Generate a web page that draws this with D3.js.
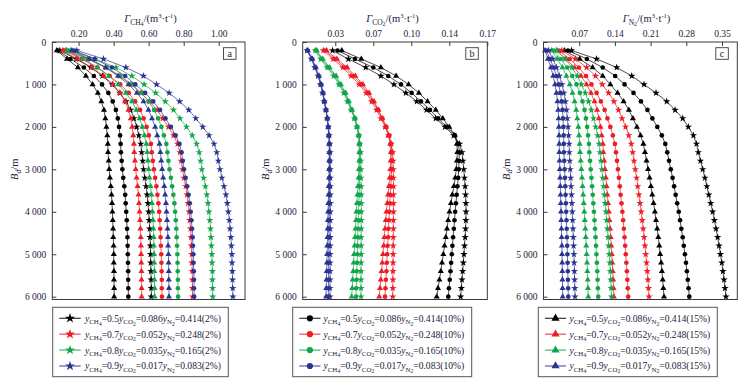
<!DOCTYPE html>
<html><head><meta charset="utf-8">
<script src="https://cdn.jsdelivr.net/npm/d3@7"></script>
<style>body{margin:0;background:#fff}svg{display:block}</style>
</head><body>
<svg id="chart" width="754" height="388"></svg>
<script>
// ---------------- DATA ----------------
const depths = [200,400,600,800,1000,1200,1400,1600,1800,2000,2200,2400,2600,2800,3000,3200,3400,3600,3800,4000,4200,4400,4600,4800,5000,5200,5400,5600,5800,6000];
const depthTicks = [0,1000,2000,3000,4000,5000,6000];
const depthTickLabels = ["0","1 000","2 000","3 000","4 000","5 000","6 000"];
const xTicksCH4 = [0.2,0.4,0.6,0.8,1.0];
const xTickLabelsCH4 = ["0.20","0.40","0.60","0.80","1.00"];
const xTicksCO2 = [0.03,0.065,0.1,0.135,0.17];
const xTickLabelsCO2 = ["0.03","0.07","0.10","0.14","0.17"];
const xTicksN2 = [0.07,0.14,0.21,0.28,0.35];
const xTickLabelsN2 = ["0.07","0.14","0.21","0.28","0.35"];
const yCH4 = ["0.5","0.7","0.8","0.9"];
const yCO2 = ["0.086","0.052","0.035","0.017"];
const yN2 = ["0.414","0.248","0.165","0.083"];
const moisture = ["15%","10%","2%"]; // triangle, circle, star

// Panel a: CH4
const ch4Black15 = [0.076,0.134,0.196,0.242,0.280,0.310,0.330,0.345,0.353,0.359,0.364,0.367,0.368,0.372,0.375,0.379,0.384,0.388,0.391,0.393,0.395,0.397,0.398,0.400,0.401,0.401,0.402,0.402,0.403,0.403];
const ch4Black10 = [0.082,0.154,0.230,0.287,0.334,0.370,0.395,0.413,0.424,0.431,0.437,0.440,0.442,0.446,0.450,0.455,0.461,0.466,0.469,0.472,0.475,0.477,0.479,0.480,0.481,0.482,0.483,0.483,0.484,0.484];
const ch4Black2 = [0.093,0.186,0.270,0.336,0.392,0.436,0.471,0.497,0.516,0.532,0.544,0.555,0.560,0.566,0.571,0.578,0.585,0.591,0.596,0.600,0.603,0.606,0.608,0.610,0.611,0.612,0.613,0.614,0.615,0.615];
const ch4Red15 = [0.110,0.192,0.277,0.343,0.396,0.436,0.465,0.485,0.498,0.506,0.512,0.516,0.518,0.522,0.526,0.531,0.537,0.542,0.545,0.548,0.551,0.553,0.555,0.556,0.557,0.558,0.559,0.559,0.560,0.560];
const ch4Red10 = [0.118,0.218,0.308,0.378,0.438,0.486,0.523,0.551,0.571,0.588,0.601,0.613,0.618,0.624,0.630,0.637,0.644,0.650,0.656,0.660,0.663,0.666,0.668,0.670,0.672,0.673,0.674,0.675,0.675,0.676];
const ch4Red2 = [0.127,0.251,0.355,0.436,0.498,0.557,0.605,0.648,0.680,0.713,0.742,0.765,0.778,0.785,0.793,0.801,0.811,0.819,0.825,0.831,0.835,0.839,0.842,0.844,0.846,0.847,0.849,0.850,0.850,0.851];
const ch4Green15 = [0.133,0.225,0.307,0.372,0.427,0.470,0.505,0.530,0.548,0.564,0.576,0.587,0.592,0.596,0.600,0.605,0.611,0.616,0.619,0.622,0.625,0.627,0.629,0.630,0.631,0.632,0.633,0.633,0.634,0.634];
const ch4Green10 = [0.145,0.257,0.359,0.437,0.505,0.558,0.600,0.631,0.654,0.673,0.687,0.701,0.707,0.713,0.719,0.727,0.734,0.741,0.747,0.751,0.755,0.758,0.760,0.762,0.764,0.765,0.766,0.767,0.767,0.768];
const ch4Green2 = [0.156,0.295,0.413,0.504,0.574,0.640,0.695,0.742,0.779,0.816,0.849,0.874,0.889,0.897,0.904,0.914,0.924,0.932,0.939,0.944,0.949,0.953,0.956,0.958,0.961,0.962,0.964,0.964,0.965,0.966];
const ch4Blue15 = [0.162,0.263,0.354,0.425,0.485,0.533,0.571,0.599,0.619,0.637,0.649,0.662,0.667,0.672,0.677,0.683,0.689,0.694,0.699,0.702,0.705,0.708,0.710,0.711,0.713,0.714,0.715,0.715,0.716,0.716];
const ch4Blue10 = [0.175,0.291,0.390,0.466,0.524,0.580,0.626,0.665,0.696,0.727,0.754,0.776,0.788,0.795,0.802,0.811,0.820,0.828,0.835,0.840,0.844,0.848,0.851,0.853,0.855,0.856,0.858,0.859,0.859,0.860];
const ch4Blue2 = [0.190,0.342,0.470,0.570,0.645,0.717,0.777,0.829,0.869,0.909,0.945,0.973,0.989,0.998,1.007,1.018,1.030,1.041,1.049,1.055,1.061,1.065,1.069,1.072,1.075,1.076,1.078,1.079,1.080,1.081];

// Panel b: CO2
const co2Black15 = [0.036,0.054,0.072,0.086,0.0975,0.107,0.115,0.1225,0.129,0.135,0.140,0.142,0.1424,0.1420,0.1414,0.1405,0.1392,0.1378,0.1365,0.1352,0.1340,0.1329,0.1318,0.1306,0.1295,0.1283,0.1272,0.1259,0.1246,0.1234];
const co2Black10 = [0.0321,0.0481,0.0650,0.0788,0.0905,0.1003,0.1089,0.1172,0.1248,0.1325,0.1402,0.1435,0.1442,0.1440,0.1437,0.1432,0.1425,0.1418,0.1411,0.1404,0.1398,0.1392,0.1385,0.1379,0.1373,0.1367,0.1361,0.1354,0.1347,0.1341];
const co2Black2 = [0.0275,0.042,0.058,0.072,0.084,0.095,0.105,0.114,0.1225,0.131,0.139,0.1445,0.1467,0.1475,0.1483,0.1490,0.1496,0.1500,0.1503,0.1504,0.1503,0.1500,0.1496,0.1490,0.1485,0.1479,0.1473,0.1467,0.1461,0.1455];
const co2Red15 = [0.022,0.0315,0.041,0.0485,0.0555,0.0612,0.0657,0.0698,0.0733,0.0765,0.0790,0.0806,0.0812,0.0810,0.0807,0.0801,0.0794,0.0786,0.0779,0.0771,0.0765,0.0758,0.0752,0.0746,0.0739,0.0733,0.0726,0.0719,0.0712,0.0705];
const co2Red10 = [0.0205,0.0297,0.0389,0.0466,0.0538,0.0600,0.0648,0.0694,0.0733,0.0770,0.0798,0.0815,0.0822,0.0821,0.0819,0.0816,0.0811,0.0807,0.0802,0.0798,0.0794,0.0790,0.0786,0.0782,0.0778,0.0775,0.0771,0.0766,0.0762,0.0758];
const co2Red2 = [0.019,0.028,0.037,0.0445,0.052,0.0585,0.0635,0.068,0.072,0.076,0.079,0.0815,0.0828,0.0832,0.0834,0.0835,0.0836,0.0836,0.0836,0.0836,0.0835,0.0835,0.0834,0.0833,0.0833,0.0832,0.0831,0.0831,0.0830,0.0829];
const co2Green15 = [0.013,0.0185,0.0248,0.0308,0.0352,0.0395,0.0425,0.0455,0.0482,0.0500,0.0514,0.0519,0.0521,0.0520,0.0517,0.0514,0.0509,0.0504,0.0499,0.0494,0.0490,0.0486,0.0482,0.0478,0.0473,0.0469,0.0465,0.0460,0.0456,0.0451];
const co2Green10 = [0.0122,0.0174,0.0235,0.0297,0.0343,0.0389,0.0419,0.0450,0.0481,0.0502,0.0518,0.0525,0.0528,0.0527,0.0526,0.0524,0.0522,0.0519,0.0517,0.0514,0.0512,0.0509,0.0507,0.0505,0.0503,0.0501,0.0498,0.0496,0.0493,0.0491];
const co2Green2 = [0.0115,0.0165,0.0225,0.0285,0.0333,0.0378,0.0412,0.0445,0.0476,0.0499,0.0518,0.0527,0.0533,0.0535,0.0536,0.0537,0.0538,0.0539,0.0539,0.0539,0.0539,0.0539,0.0538,0.0538,0.0538,0.0538,0.0537,0.0537,0.0537,0.0537];
const co2Blue15 = [0.0048,0.0090,0.0121,0.0151,0.0171,0.0189,0.0201,0.0215,0.0226,0.0234,0.0239,0.0243,0.0245,0.0244,0.0243,0.0242,0.0240,0.0238,0.0236,0.0234,0.0232,0.0230,0.0228,0.0226,0.0225,0.0223,0.0221,0.0219,0.0217,0.0215];
const co2Blue10 = [0.0043,0.0083,0.0114,0.0145,0.0166,0.0185,0.0198,0.0214,0.0227,0.0236,0.0242,0.0247,0.0249,0.0249,0.0248,0.0248,0.0247,0.0246,0.0245,0.0244,0.0243,0.0242,0.0242,0.0241,0.0240,0.0239,0.0239,0.0238,0.0237,0.0236];
const co2Blue2 = [0.0040,0.0080,0.0111,0.0142,0.0164,0.0183,0.0197,0.0214,0.0227,0.0237,0.0244,0.0250,0.0252,0.0253,0.0254,0.0254,0.0254,0.0254,0.0254,0.0254,0.0254,0.0253,0.0253,0.0253,0.0252,0.0252,0.0252,0.0252,0.0251,0.0251];

// Panel c: N2
const n2Black15 = [0.041,0.071,0.0963,0.1161,0.1311,0.1453,0.1571,0.1674,0.1753,0.1832,0.1903,0.1958,0.1990,0.2020,0.2050,0.2080,0.2106,0.2132,0.2158,0.2184,0.2206,0.2229,0.2251,0.2270,0.2288,0.2307,0.2322,0.2337,0.2350,0.2363];
const n2Black10 = [0.048,0.085,0.1161,0.1405,0.1590,0.1765,0.1911,0.2038,0.2135,0.2232,0.2320,0.2388,0.2427,0.2462,0.2496,0.2531,0.2561,0.2591,0.2621,0.2652,0.2678,0.2703,0.2729,0.2751,0.2773,0.2794,0.2811,0.2829,0.2844,0.2859];
const n2Black2 = [0.055,0.104,0.1435,0.173,0.197,0.2206,0.2415,0.258,0.273,0.284,0.294,0.300,0.3035,0.3078,0.3122,0.3165,0.3203,0.3241,0.3279,0.3317,0.3350,0.3383,0.3415,0.3442,0.3469,0.3497,0.3518,0.3540,0.3559,0.3578];
const n2Red15 = [0.026,0.0443,0.0607,0.0735,0.0844,0.0931,0.1000,0.1050,0.1086,0.1118,0.1141,0.1164,0.1173,0.1190,0.1206,0.1223,0.1237,0.1252,0.1266,0.1281,0.1293,0.1305,0.1318,0.1328,0.1339,0.1349,0.1357,0.1366,0.1373,0.1380];
const n2Red10 = [0.030,0.0513,0.0693,0.0833,0.0940,0.1041,0.1125,0.1198,0.1254,0.1310,0.1360,0.1400,0.1422,0.1441,0.1460,0.1479,0.1496,0.1513,0.1530,0.1546,0.1561,0.1575,0.1589,0.1601,0.1613,0.1625,0.1635,0.1644,0.1653,0.1661];
const n2Red2 = [0.036,0.0624,0.0846,0.1020,0.1152,0.1277,0.1381,0.1471,0.1541,0.1610,0.1673,0.1721,0.1749,0.1775,0.1800,0.1826,0.1848,0.1871,0.1893,0.1915,0.1935,0.1954,0.1973,0.1989,0.2005,0.2021,0.2034,0.2047,0.2058,0.2069];
const n2Green15 = [0.016,0.0271,0.0371,0.0449,0.0516,0.0569,0.0610,0.0641,0.0663,0.0683,0.0697,0.0710,0.0716,0.0729,0.0742,0.0755,0.0766,0.0778,0.0789,0.0800,0.0810,0.0820,0.0829,0.0838,0.0846,0.0854,0.0860,0.0867,0.0872,0.0878];
const n2Green10 = [0.020,0.034,0.0465,0.0563,0.0647,0.0713,0.0765,0.0804,0.0832,0.0856,0.0874,0.0891,0.0898,0.0912,0.0926,0.0940,0.0952,0.0965,0.0977,0.0989,0.1000,0.1010,0.1021,0.1029,0.1038,0.1047,0.1054,0.1061,0.1067,0.1073];
const n2Green2 = [0.026,0.0421,0.0557,0.0663,0.0743,0.0820,0.0883,0.0938,0.0981,0.1023,0.1061,0.1091,0.1108,0.1126,0.1144,0.1162,0.1178,0.1194,0.1210,0.1226,0.1240,0.1253,0.1267,0.1278,0.1290,0.1301,0.1310,0.1319,0.1327,0.1335];
const n2Blue15 = [0.003,0.0086,0.0145,0.019,0.0226,0.0254,0.0274,0.0288,0.0296,0.0302,0.0306,0.0309,0.0310,0.0315,0.0321,0.0326,0.0330,0.0335,0.0340,0.0344,0.0348,0.0352,0.0356,0.0360,0.0363,0.0366,0.0369,0.0371,0.0374,0.0376];
const n2Blue10 = [0.006,0.0128,0.0199,0.0254,0.0298,0.0332,0.0356,0.0373,0.0383,0.0390,0.0395,0.0398,0.0400,0.0407,0.0414,0.0421,0.0427,0.0433,0.0439,0.0445,0.0450,0.0455,0.0460,0.0465,0.0469,0.0473,0.0477,0.0480,0.0483,0.0486];
const n2Blue2 = [0.010,0.0181,0.0254,0.0311,0.0360,0.0398,0.0429,0.0451,0.0467,0.0482,0.0492,0.0502,0.0506,0.0515,0.0524,0.0533,0.0541,0.0549,0.0556,0.0564,0.0571,0.0578,0.0584,0.0590,0.0596,0.0601,0.0606,0.0610,0.0614,0.0618];

// ---------------- STYLE / LAYOUT ----------------
const colors = ["#000000","#ee1c25","#13a54a","#2b3491"];
const shapes = [d3.symbolTriangle, d3.symbolCircle, d3.symbolStar];
const shapeSizes = [16, 17, 17];
const serif = "'Liberation Serif','Times New Roman',serif";
const textColor = "#1b1b3a";
const frameColor = "#3a3a3a";

const panels = [
  {letter:"a", gas:["CH","4"], x0:52.3, x1:245, domain:[0.05,1.15], ticks:xTicksCH4, labels:xTickLabelsCH4,
   series:[[ch4Black15,ch4Black10,ch4Black2],[ch4Red15,ch4Red10,ch4Red2],[ch4Green15,ch4Green10,ch4Green2],[ch4Blue15,ch4Blue10,ch4Blue2]],
   legendShape:2, lx0:52.7, lx1:228.3, lineA:59.3, lineB:80.7, textX:85, titleX:150.5},
  {letter:"b", gas:["CO","2"], x0:302.7, x1:487.3, domain:[0,0.17], ticks:xTicksCO2, labels:xTickLabelsCO2,
   series:[[co2Black15,co2Black10,co2Black2],[co2Red15,co2Red10,co2Red2],[co2Green15,co2Green10,co2Green2],[co2Blue15,co2Blue10,co2Blue2]],
   legendShape:1, lx0:292.7, lx1:471.7, lineA:299.3, lineB:320.5, textX:323.5, titleX:392.5},
  {letter:"c", gas:["N","2"], x0:543.5, x1:737.3, domain:[0,0.38], ticks:xTicksN2, labels:xTickLabelsN2,
   series:[[n2Black15,n2Black10,n2Black2],[n2Red15,n2Red10,n2Red2],[n2Green15,n2Green10,n2Green2],[n2Blue15,n2Blue10,n2Blue2]],
   legendShape:0, lx0:538.3, lx1:717.3, lineA:545, lineB:566, textX:569.5, titleX:646.5}
];

const plotTop = 42, plotBottom = 299.5;
const svg = d3.select("#chart");

// rich text helper: segments [text, level(0 normal,1 sub,2 subsub,-1 sup), italic]
function rich(textSel, segs, base){
  const off = {0:0, 1:0.28, 2:0.40, "-1":-0.38};
  const fs = {0:1, 1:0.72, 2:0.58, "-1":0.62};
  let cur = 0;
  segs.forEach(([t, lvl, it]) => {
    const o = off[lvl]*base;
    textSel.append("tspan").text(t)
      .attr("dy", (o-cur).toFixed(2))
      .attr("font-size", (fs[lvl]*base).toFixed(2))
      .attr("font-style", it ? "italic" : "normal");
    cur = o;
  });
}

const yScale = d3.scaleLinear().domain([0,6066]).range([plotTop,plotBottom]);

panels.forEach((p) => {
  const x = d3.scaleLinear().domain(p.domain).range([p.x0,p.x1]);
  const g = svg.append("g");

  // series
  const line = d3.line().x(d => x(d[0])).y(d => yScale(d[1]));
  p.series.forEach((grp, ci) => {
    grp.forEach((vals, mi) => {
      const pts = vals.map((v,i) => [v, depths[i]]);
      g.append("path").datum(pts).attr("d", line)
        .attr("fill","none").attr("stroke", colors[ci]).attr("stroke-width",1).attr("stroke-opacity",0.7);
      g.append("g").selectAll("path").data(pts).join("path")
        .attr("transform", d => `translate(${x(d[0])},${yScale(d[1])})`)
        .attr("d", d3.symbol().type(shapes[mi]).size(shapeSizes[mi]))
        .attr("fill", colors[ci]);
    });
  });

  // frame
  g.append("rect").attr("x",p.x0).attr("y",plotTop).attr("width",p.x1-p.x0).attr("height",plotBottom-plotTop)
    .attr("fill","none").attr("stroke",frameColor).attr("stroke-width",1);

  // top axis
  const ax = g.append("g").attr("transform",`translate(0,${plotTop})`)
    .call(d3.axisTop(x).tickValues(p.ticks).tickFormat((d,i)=>p.labels[i]).tickSizeInner(-4).tickSizeOuter(0).tickPadding(5));
  // left axis
  const ay = g.append("g").attr("transform",`translate(${p.x0},0)`)
    .call(d3.axisLeft(yScale).tickValues(depthTicks).tickFormat((d,i)=>depthTickLabels[i]).tickSizeInner(-4).tickSizeOuter(0).tickPadding(6));
  [ax, ay].forEach(a => {
    a.select(".domain").remove();
    a.selectAll(".tick line").attr("stroke",frameColor);
    a.selectAll("text").attr("font-family",serif).attr("font-size",9.5).attr("fill",textColor);
  });

  // x title
  const xt = g.append("text").attr("x",p.titleX).attr("y",22).attr("text-anchor","middle")
    .attr("font-family",serif).attr("fill",textColor);
  rich(xt, [["Γ",0,true],[p.gas[0],1,false],[p.gas[1],2,false],["/(m",0,false],["3",-1,false],["·t",0,false],["-1",-1,false],[")",0,false]], 10.5);

  // y title
  const yt = g.append("text").attr("transform",`translate(${p.x0-34},${yScale(3000)}) rotate(-90)`)
    .attr("text-anchor","middle").attr("font-family",serif).attr("fill",textColor);
  rich(yt, [["B",0,true],["d",1,true],["/m",0,false]], 10.5);

  // panel letter
  g.append("rect").attr("x",p.x1-21.5).attr("y",plotTop+5.7).attr("width",12.5).attr("height",11.6)
    .attr("fill","#fff").attr("stroke",frameColor).attr("stroke-width",0.9);
  g.append("text").attr("x",p.x1-15.25).attr("y",plotTop+14.8).attr("text-anchor","middle")
    .attr("font-family",serif).attr("font-size",10).attr("fill",textColor).text(p.letter);

  // legend
  const lg = g.append("g");
  lg.append("rect").attr("x",p.lx0).attr("y",307.3).attr("width",p.lx1-p.lx0).attr("height",69.4)
    .attr("fill","#fff").attr("stroke","#555").attr("stroke-width",1);
  const mi = p.legendShape;
  colors.forEach((c, ci) => {
    const ry = 318.3 + ci*15.9;
    lg.append("line").attr("x1",p.lineA).attr("x2",p.lineB).attr("y1",ry).attr("y2",ry)
      .attr("stroke",c).attr("stroke-width",1.2).attr("stroke-opacity",0.8);
    lg.append("path").attr("transform",`translate(${(p.lineA+p.lineB)/2},${ry})`)
      .attr("d", d3.symbol().type(shapes[mi]).size(shapeSizes[mi]*1.8)).attr("fill",c);
    const t = lg.append("text").attr("x",p.textX).attr("y",ry+3.4)
      .attr("font-family",serif).attr("fill",textColor);
    rich(t, [["y",0,true],["CH",1,false],["4",2,false],["="+yCH4[ci],0,false],
             ["y",0,true],["CO",1,false],["2",2,false],["="+yCO2[ci],0,false],
             ["y",0,true],["N",1,false],["2",2,false],["="+yN2[ci]+"("+moisture[mi]+")",0,false]], 9.6);
  });
});
</script>
</body></html>
